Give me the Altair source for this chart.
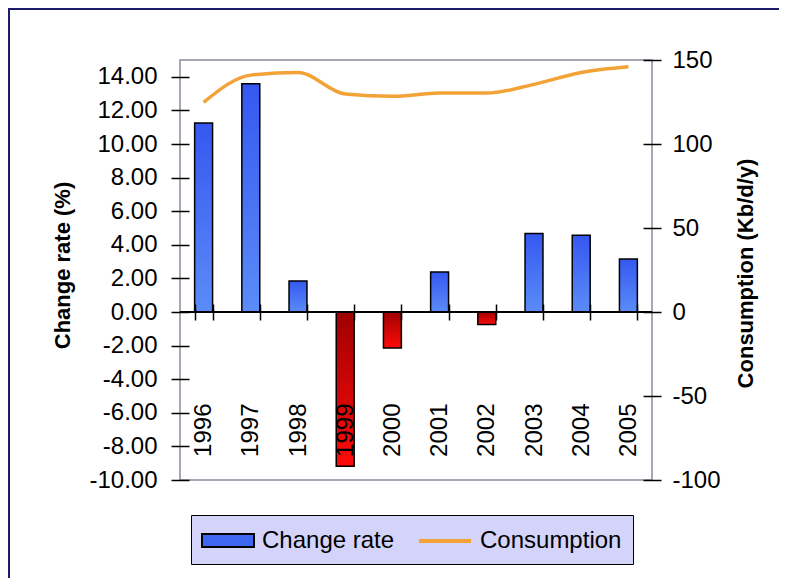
import altair as alt
import pandas as pd

years = ["1996", "1997", "1998", "1999", "2000", "2001", "2002", "2003", "2004", "2005"]
change_rate = [11.25, 13.58, 1.85, -9.18, -2.14, 2.38, -0.75, 4.68, 4.57, 3.15]
consumption = [124.8, 141.0, 142.6, 129.7, 128.4, 130.3, 130.3, 135.5, 142.6, 146.0]
series = ["Change rate", "Consumption"]

df = pd.DataFrame({"year": years, "rate": change_rate, "cons": consumption})
df_leg = pd.DataFrame({"series": series})

W, H = 472, 420
FONT = "Liberation Sans"
ORANGE = "#f2a236"
STEP = W / 10.0
GAP = STEP * 0.62 / 2

blue_grad = {"gradient": "linear", "x1": 0, "x2": 0, "y1": 0, "y2": 1,
             "stops": [{"offset": 0, "color": "#3558f0"}, {"offset": 1, "color": "#5b8cf8"}]}
red_grad = {"gradient": "linear", "x1": 0, "x2": 0, "y1": 0, "y2": 1,
            "stops": [{"offset": 0, "color": "#a00000"}, {"offset": 1, "color": "#ff0b0b"}]}

xenc = alt.X("year:N", sort=years, title=None,
             scale=alt.Scale(paddingInner=0.62, paddingOuter=0.31),
             axis=alt.Axis(orient="bottom", offset=-176, domain=False, tickBand="extent",
                           tickOffset=-GAP, zindex=1,
                           tickSize=16, tickColor="black", tickWidth=1.5,
                           labelAngle=270, labelAlign="right", labelBaseline="middle",
                           labelOverlap=False,
                           labelPadding=83, labelFontSize=24, labelFont=FONT, labelColor="black"))

neg_expr = "(datum.value < 0 ? '-' : '') + format(abs(datum.value), '{fmt}')"

left_scale = alt.Scale(domain=[-10, 15], nice=False, zero=False)
left_axis = alt.Axis(orient="left", values=list(range(-10, 15, 2)), tickCount=20,
                     labelExpr=neg_expr.format(fmt=".2f"), labelOverlap=False,
                     offset=-9, domain=False, tickSize=18, tickColor="black", tickWidth=1.5,
                     labelPadding=14, labelFontSize=24, labelFont=FONT, labelColor="black",
                     grid=False, title="Change rate (%)", titleFont=FONT, titleFontSize=22,
                     titleFontWeight="bold", titleColor="black",
                     titleAngle=270, titleAlign="center", titleBaseline="middle",
                     titleX=-127, titleY=205)

bars = alt.Chart(df).mark_bar(stroke="black", strokeWidth=1.5).encode(
    x=xenc,
    y=alt.Y("rate:Q", scale=left_scale, axis=left_axis),
    fill=alt.condition("datum.rate >= 0", alt.value(blue_grad), alt.value(red_grad)),
)

zero_rule = alt.Chart(df).mark_rule(color="black", strokeWidth=1.5).encode(
    y=alt.YDatum(0, scale=left_scale, axis=left_axis))

left = alt.layer(bars, zero_rule)

line = alt.Chart(df).mark_line(color=ORANGE, strokeWidth=3.5, interpolate="monotone").encode(
    x=alt.X("year:N", sort=years),
    y=alt.Y("cons:Q", scale=alt.Scale(domain=[-100, 150], nice=False, zero=False),
            axis=alt.Axis(orient="right", values=list(range(-100, 151, 50)), tickCount=20,
                          labelExpr=neg_expr.format(fmt="d"), labelOverlap=False,
                          offset=-9, domain=False, tickSize=18, tickColor="black", tickWidth=1.5,
                          labelPadding=11, labelFontSize=24, labelFont=FONT, labelColor="black",
                          grid=False, title="Consumption (Kb/d/y)", titleFont=FONT, titleFontSize=22,
                          titleFontWeight="bold", titleColor="black",
                          titleAngle=270, titleAlign="center", titleBaseline="middle",
                          titleX=102, titleY=213)),
)

rect_path = "M-2,-0.5H2V0.5H-2Z"
line_path = "M-2,0H2"
leg = alt.Legend(orient="none", legendX=11, legendY=455, direction="horizontal", title=None,
                 fillColor="#d4d4fb", strokeColor="black", padding=11,
                 symbolSize=676, symbolOffset=12, labelOffset=20, columnPadding=16,
                 symbolOpacity=1,
                 labelFontSize=24, labelFont=FONT, labelColor="black")

legend_layer = alt.Chart(df_leg).mark_point(filled=True, opacity=1).encode(
    fill=alt.Fill("series:N", scale=alt.Scale(domain=series, range=["#3f68f2", "transparent"]), legend=leg),
    stroke=alt.Stroke("series:N", scale=alt.Scale(domain=series, range=["black", ORANGE]), legend=leg),
    shape=alt.Shape("series:N", scale=alt.Scale(domain=series, range=[rect_path, line_path]), legend=leg),
    strokeWidth=alt.StrokeWidth("series:N", scale=alt.Scale(domain=series, range=[2, 4]), legend=leg),
).transform_filter("false")

frame = alt.Chart(df_leg).mark_rect(fill="transparent", stroke="#1c1c6a", strokeWidth=2).encode(
    x=alt.value(-171), x2=alt.value(W + 200), y=alt.value(-51), y2=alt.value(H + 160))

chart = alt.layer(frame, left, line, legend_layer).resolve_scale(y="independent").properties(
    width=W, height=H,
    autosize=alt.AutoSizeParams(type="none"),
    padding={"left": 172, "top": 52, "right": 127, "bottom": 98},
    background="white",
).configure_view(fill="#d3d3fa", stroke="#8a8a9a", strokeWidth=1.5)

chart.save("out.html", embed_options={"renderer": "svg", "actions": False})
